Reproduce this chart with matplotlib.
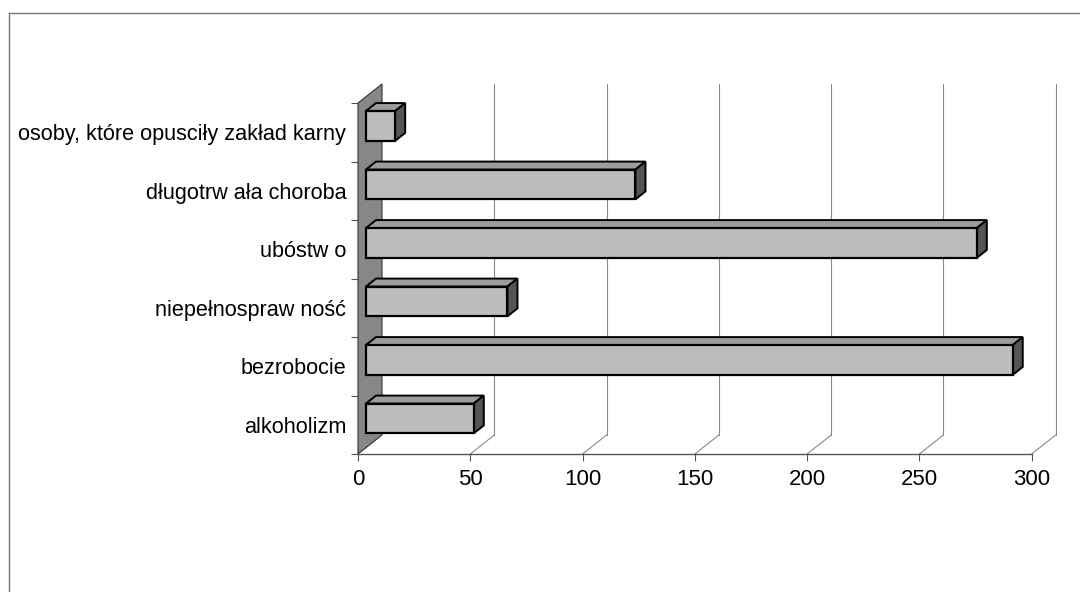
import matplotlib
matplotlib.use("Agg")
import matplotlib.pyplot as plt
from matplotlib.patches import Polygon
from matplotlib.lines import Line2D

plt.rcParams['font.family'] = ['Liberation Sans', 'DejaVu Sans']

categories = ["alkoholizm", "bezrobocie", "niepełnospraw ność", "ubóstw o",
              "długotrw ała choroba", "osoby, które opusciły zakład karny"]
values = [48, 288, 63, 272, 120, 13]
xticks = [0, 50, 100, 150, 200, 250, 300]

W, H = 1080, 592
fig = plt.figure(figsize=(W / 100, H / 100), dpi=100)
fig.patch.set_facecolor('white')

# chart border (top and left visible in the scan)
fig.add_artist(Line2D([9 / W, 1.0], [1 - 13 / H, 1 - 13 / H], color='#777777', lw=1.0))
fig.add_artist(Line2D([9 / W, 9 / W], [0, 1 - 13 / H], color='#777777', lw=1.0))

left_px, right_px, base_px, top_px = 358, 1031.7, 454, 103
ax = fig.add_axes([left_px / W, (H - base_px) / H, (right_px - left_px) / W, (base_px - top_px) / H])
ax.set_xlim(0, 300)
ax.set_ylim(0, len(categories))
ax.set_facecolor('none')

# depth offsets in data units (24 px right, 19 px up)
DX = 24 / ((right_px - left_px) / 300)
DY = 19 / ((base_px - top_px) / len(categories))
n = len(categories)

# gridlines (back wall + floor diagonals)
for t in xticks[1:]:
    ax.plot([t + DX, t + DX], [DY, n + DY], color='#8a8a8a', lw=0.8, clip_on=False, zorder=1)
    ax.plot([t, t + DX], [0, DY], color='#8a8a8a', lw=0.8, clip_on=False, zorder=1)

# side wall
wall = Polygon([(0, 0), (0, n), (DX, n + DY), (DX, DY)], closed=True,
               facecolor='#878787', edgecolor='#333333', lw=0.8, clip_on=False, zorder=2)
ax.add_patch(wall)

# bars
d0, d1 = 0.33, 0.75
h = 0.51
ox, oy = d0 * DX, d0 * DY
ddx, ddy = (d1 - d0) * DX, (d1 - d0) * DY
ypos = [i + 0.5 + oy for i in range(n)]
ax.barh(ypos, values, height=h, left=ox, color='#bdbdbd', edgecolor='black', lw=1.6,
        zorder=4, clip_on=False)
for y, v in zip(ypos, values):
    yb, yt = y - h / 2, y + h / 2
    x1 = v + ox
    top = Polygon([(ox, yt), (x1, yt), (x1 + ddx, yt + ddy), (ox + ddx, yt + ddy)], closed=True,
                  facecolor='#9c9c9c', edgecolor='black', lw=1.4, clip_on=False, zorder=3)
    side = Polygon([(x1, yb), (x1, yt), (x1 + ddx, yt + ddy), (x1 + ddx, yb + ddy)], closed=True,
                   facecolor='#555555', edgecolor='black', lw=1.4, clip_on=False, zorder=3)
    ax.add_patch(top)
    ax.add_patch(side)

# axes styling
for s in ['top', 'right', 'left']:
    ax.spines[s].set_visible(False)
ax.spines['bottom'].set_color('#555555')
ax.spines['bottom'].set_linewidth(1.0)

ax.set_xticks(xticks)
ax.set_xticklabels([str(t) for t in xticks], fontsize=16)
ax.tick_params(axis='x', direction='out', length=5, width=0.8, color='#555555', pad=6)

ax.set_yticks(range(n + 1))
ax.set_yticklabels([])
ax.tick_params(axis='y', which='major', direction='out', length=5, width=0.8, color='#555555')
ax.set_yticks([i + 0.5 for i in range(n)], minor=True)
ax.set_yticklabels(categories, minor=True, fontsize=15.6)
ax.tick_params(axis='y', which='minor', length=0, pad=8.5)

fig.savefig("out.png", dpi=100, facecolor='white')
